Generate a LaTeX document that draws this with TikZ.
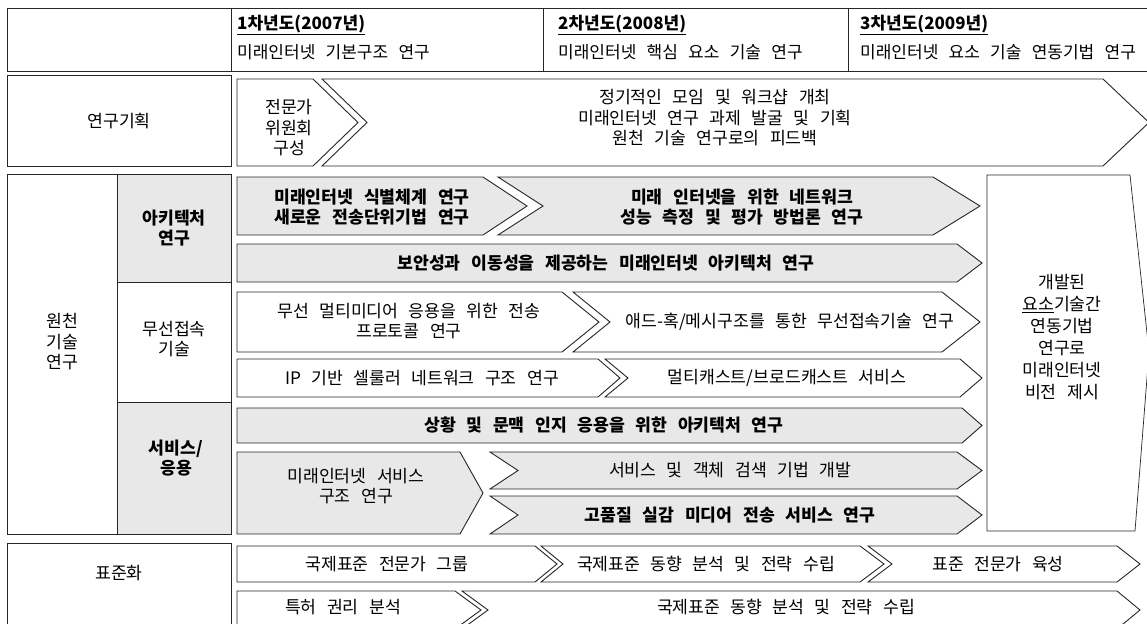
\documentclass[tikz,border=0pt]{standalone}
\usepackage{fontspec}
\setmainfont{Noto Sans CJK KR}[WordSpace=2.7]
\newcommand\pentpath[5]{(#1,#4)--(#2,#4)--(#3,{(#4+#5)/2})--(#2,#5)--(#1,#5)--cycle}
\newcommand\chevpath[6]{(#1,#5)--(#3,#5)--(#4,{(#5+#6)/2})--(#3,#6)--(#1,#6)--(#2,{(#5+#6)/2})--cycle}
\begin{document}
\begin{tikzpicture}[x=1pt,y=-1pt,
  box/.style={draw=black!85, line width=0.9pt},
  shade/.style={fill=black!9},
  txt/.style={font=\fontsize{17.2}{20.5}\selectfont, align=center, inner sep=0pt},
  btxt/.style={font=\fontsize{17.2}{20.5}\selectfont\bfseries, align=center, inner sep=0pt},
  hd/.style={font=\fontsize{17}{20.5}\selectfont, anchor=west, inner sep=0pt},
  hdb/.style={font=\fontsize{17}{20.5}\selectfont\bfseries, anchor=west, inner sep=0pt}]
\useasboundingbox (0,0) rectangle (1147,623);
\fill[white] (0,0) rectangle (1147,623);

% header
\draw[box] (1152,8) -- (7,8) -- (7,71) -- (1152,71);
\draw[box] (231,8) -- (231,71);
\draw[box] (543,8) -- (543,71);
\draw[box] (848,8) -- (848,71);
\node[hdb] (y1) at (237,25) {\underline{1차년도(2007년)}};
\node[hd] (t1) at (237,52) {미래인터넷 기본구조 연구};
\node[hdb] (y2) at (558,25) {\underline{2차년도(2008년)}};
\node[hd] (t2) at (558,52) {미래인터넷 핵심 요소 기술 연구};
\node[hdb] (y3) at (860,25) {\underline{3차년도(2009년)}};
\node[hd] (t3) at (860,52) {미래인터넷 요소 기술 연동기법 연구};

% 연구기획
\draw[box] (7,75) rectangle (231,166);
\node[txt] (plan) at (119,121) {연구기획};
\draw[box] \pentpath{237}{313}{358}{79}{166};
\draw[box] \chevpath{322}{367}{1103}{1149}{79}{166};
\node[txt] (p1) at (289,128) {전문가\\위원회\\구성};
\node[txt] (p2) at (715,118) {정기적인 모임 및 워크샵 개최\\미래인터넷 연구 과제 발굴 및 기획\\원천 기술 연구로의 피드백};

% 원천 기술 연구 left
\draw[box] (7,174) rectangle (231,534);
\draw[box,shade] (117,174) rectangle (231,282);
\draw[box] (117,282) rectangle (231,402);
\draw[box,shade] (117,402) rectangle (231,534);
\draw[box] (117,174) -- (117,534);
\node[txt] (src) at (62,342) {원천\\기술\\연구};
\node[btxt] (arch) at (174,228) {아키텍처\\연구};
\node[txt] (wire) at (174,339) {무선접속\\기술};
\node[btxt] (svc) at (176,458) {서비스/\\응용};

% A1
\draw[box,shade] \pentpath{237}{483}{527}{177}{235};
\draw[box,shade] \chevpath{498}{543}{933}{980}{177}{235};
\node[btxt] (a1l) at (372,207) {미래인터넷 식별체계 연구\\새로운 전송단위기법 연구};
\node[btxt] (a1r) at (742,207) {미래 인터넷을 위한 네트워크\\성능 측정 및 평가 방법론 연구};
% A2
\draw[box,shade] \pentpath{237}{957}{982}{244}{282};
\node[btxt] (a2) at (606,263) {보안성과 이동성을 제공하는 미래인터넷 아키텍처 연구};
% W1
\draw[box] \pentpath{237}{562}{599}{292}{352};
\draw[box] \chevpath{573}{610}{942}{980}{292}{352};
\node[txt] (w1l) at (409,321) {무선 멀티미디어 응용을 위한 전송\\프로토콜 연구};
\node[txt] (w1r) at (790,322) {애드-혹/메시구조를 통한 무선접속기술 연구};
% W2
\draw[box] \pentpath{237}{598}{620}{359}{397};
\draw[box] \chevpath{605}{628}{960}{982}{359}{397};
\node[txt] (w2l) at (422,378) {IP 기반 셀룰러 네트워크 구조 연구};
\node[txt] (w2r) at (787,378) {멀티캐스트/브로드캐스트 서비스};
% S1
\draw[box,shade] \pentpath{237}{962}{982}{408}{443};
\node[btxt] (s1) at (604,425) {상황 및 문맥 인지 응용을 위한 아키텍처 연구};
% S2 left
\draw[box,shade] \pentpath{237}{460}{483}{452}{534};
\node[txt] (s2l) at (356,486) {미래인터넷 서비스\\구조 연구};
\draw[box,shade] \chevpath{490}{518}{957}{982}{452}{489};
\node[txt] (s2) at (730,470) {서비스 및 객체 검색 기법 개발};
\draw[box,shade] \chevpath{490}{518}{957}{982}{496}{534};
\node[btxt] (s3) at (730,515) {고품질 실감 미디어 전송 서비스 연구};

% right box
\draw[box, line width=0.7pt] (987,175) -- (1130,175) -- (1149,352) -- (1135,531) -- (987,531) -- cycle;
\node[txt, font=\fontsize{17.2}{22}\selectfont] (vis) at (1062,337) {개발된\\\underline{요소}기술간\\연동기법\\연구로\\미래인터넷\\비전 제시};

% 표준화
\draw[box] (7,543) -- (231,543) -- (231,630);
\draw[box] (7,543) -- (7,630);
\node[txt] (std) at (119,573) {표준화};
\draw[box] \pentpath{237}{535}{557}{546}{582};
\draw[box] \chevpath{541}{563}{860}{884}{546}{582};
\draw[box] \chevpath{868}{892}{1117}{1140}{546}{582};
\node[txt] (st1) at (387,564) {국제표준 전문가 그룹};
\node[txt] (st2) at (706,564) {국제표준 동향 분석 및 전략 수립};
\node[txt] (st3) at (998,564) {표준 전문가 육성};
\draw[box] \pentpath{237}{455}{481}{591}{629};
\draw[box] \chevpath{462}{488}{1117}{1140}{591}{629};
\node[txt] (st4) at (343,607) {특허 권리 분석};
\node[txt] (st5) at (786,607) {국제표준 동향 분석 및 전략 수립};
\end{tikzpicture}
\end{document}
